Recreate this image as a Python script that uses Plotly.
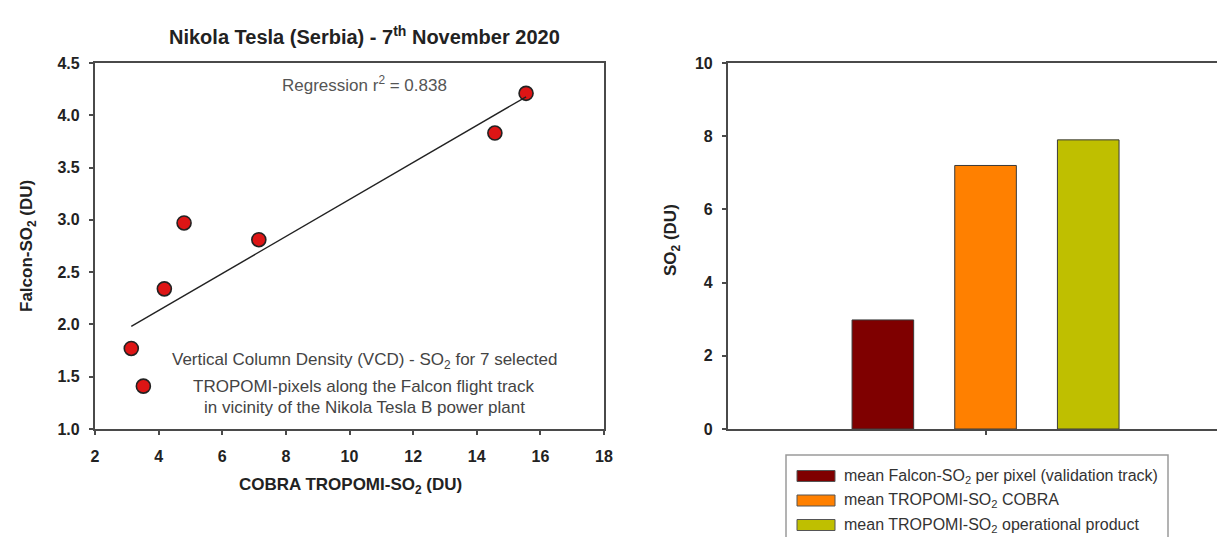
import numpy as np
import plotly.graph_objects as go

W, H = 1225, 537

# ---- data: left scatter ----
cobra_so2 = [3.14, 3.52, 4.18, 4.80, 7.15, 14.57, 15.55]
falcon_so2 = [1.77, 1.41, 2.34, 2.97, 2.81, 3.83, 4.21]
r2_text = "Regression r<sup>2</sup> = 0.838"

# ---- data: right bars ----
bar_names = [
    "mean Falcon-SO<sub>2</sub> per pixel (validation track)",
    "mean TROPOMI-SO<sub>2</sub> COBRA",
    "mean TROPOMI-SO<sub>2</sub> operational product",
]
bar_values = [2.98, 7.2, 7.9]
bar_colors = ["#7f0000", "#ff8000", "#bfbf00"]
bar_category = ["SO2"]

x_ticks_left = [2, 4, 6, 8, 10, 12, 14, 16, 18]
y_ticks_left = [1.0, 1.5, 2.0, 2.5, 3.0, 3.5, 4.0, 4.5]
y_ticks_right = [0, 2, 4, 6, 8, 10]

FONT = "Arial, Liberation Sans, sans-serif"
AX = "#4a4a4a"


def px(x):
    return x / W


def py(y):
    return 1 - y / H


fig = go.Figure()

fig.add_trace(go.Scatter(
    x=cobra_so2, y=falcon_so2, mode="markers",
    marker=dict(size=14, color="#dd1515", line=dict(color="#222222", width=1.6)),
    xaxis="x", yaxis="y", showlegend=False,
))

slope, intercept = np.polyfit(cobra_so2, falcon_so2, 1)
xl = [min(cobra_so2), max(cobra_so2)]
fig.add_trace(go.Scatter(
    x=xl, y=[slope * v + intercept for v in xl], mode="lines",
    line=dict(color="#222222", width=1.4),
    xaxis="x", yaxis="y", showlegend=False,
))

for name, val, col in zip(bar_names, bar_values, bar_colors):
    fig.add_trace(go.Bar(
        x=bar_category, y=[val], name=name,
        marker=dict(color=col, line=dict(color="#3a3a3a", width=1)),
        xaxis="x2", yaxis="y2", showlegend=False,
    ))

axis_common = dict(
    showline=True, linecolor=AX, linewidth=2.2,
    ticks="outside", ticklen=4, tickwidth=1.5, tickcolor=AX,
    showgrid=False, zeroline=False,
    tickfont=dict(family=FONT, size=16, color="#222222", weight="bold"),
    automargin=False,
)

fig.update_layout(
    width=W, height=H,
    margin=dict(l=0, r=0, t=0, b=0),
    paper_bgcolor="white", plot_bgcolor="white",
    barmode="group", bargap=0.39, bargroupgap=0.4,
    xaxis=dict(domain=[px(87), px(596)], range=[2, 18], tickvals=x_ticks_left,
               anchor="y", mirror=True, ticklabelstandoff=8, **axis_common),
    yaxis=dict(domain=[py(421), py(55)], range=[1.0, 4.5], tickvals=y_ticks_left,
               tickformat=".1f", anchor="x", mirror=True, ticklabelstandoff=6, **axis_common),
    xaxis2=dict(domain=[px(720), 1.0], range=[-0.51, 0.49], type="category",
                showticklabels=False, anchor="y2", mirror=True, **axis_common),
    yaxis2=dict(domain=[py(421), py(55)], range=[0, 10], tickvals=y_ticks_right,
                anchor="x2", mirror=False, ticklabelstandoff=6, **axis_common),
)

ann = []
ann.append(dict(text="Nikola Tesla (Serbia) - 7<sup>th</sup> November 2020",
                x=px(356), y=py(28), font=dict(family=FONT, size=20, color="#222222", weight="bold")))
ann.append(dict(text=r2_text, x=px(356), y=py(76),
                font=dict(family=FONT, size=17, color="#555555")))
desc = [
    "Vertical Column Density (VCD) - SO<sub>2</sub> for 7 selected",
    "TROPOMI-pixels along the Falcon flight track",
    "in vicinity of the Nikola Tesla B power plant",
]
for t, yy in zip(desc, [353, 378, 399]):
    ann.append(dict(text=t, x=px(356), y=py(yy), font=dict(family=FONT, size=17, color="#444444")))
ann.append(dict(text="COBRA TROPOMI-SO<sub>2</sub> (DU)", x=px(342), y=py(478),
                font=dict(family=FONT, size=17, color="#222222", weight="bold")))
ann.append(dict(text="Falcon-SO<sub>2</sub> (DU)", x=px(20), y=py(238), textangle=-90,
                font=dict(family=FONT, size=17, color="#222222", weight="bold")))
ann.append(dict(text="SO<sub>2</sub> (DU)", x=px(664), y=py(232), textangle=-90,
                font=dict(family=FONT, size=17, color="#222222", weight="bold")))

# legend (drawn manually to match wide swatches)
shapes = [dict(type="rect", xref="paper", yref="paper",
               x0=px(778), x1=px(1160), y0=py(540), y1=py(447),
               line=dict(color="#9a9a9a", width=1.5), fillcolor="rgba(0,0,0,0)")]
for i, (name, col) in enumerate(zip(bar_names, bar_colors)):
    yc = 468 + i * 24.5
    shapes.append(dict(type="rect", xref="paper", yref="paper",
                       x0=px(789), x1=px(827), y0=py(yc + 5.5), y1=py(yc - 5.5),
                       line=dict(color="#555555", width=1), fillcolor=col))
    ann.append(dict(text=name, x=px(834), y=py(yc), xanchor="left",
                    font=dict(family=FONT, size=16, color="#333333")))

for a in ann:
    a.setdefault("xanchor", "center")
    a.update(xref="paper", yref="paper", yanchor="middle", showarrow=False)

fig.update_layout(annotations=ann, shapes=shapes)

fig.write_html("out.html")
